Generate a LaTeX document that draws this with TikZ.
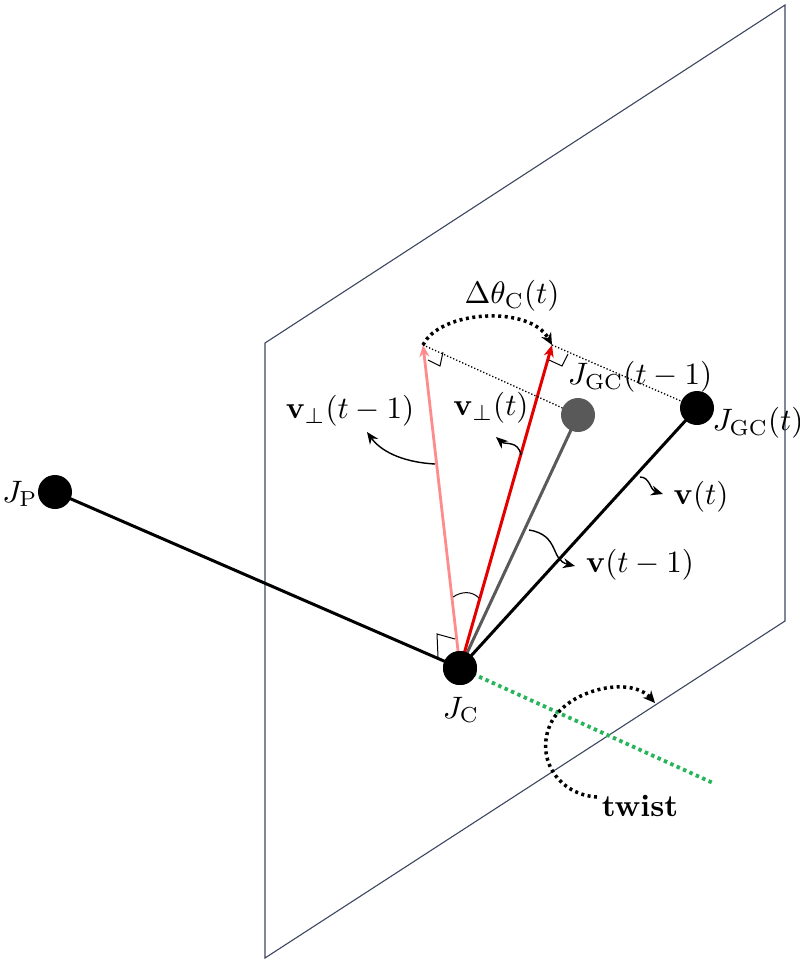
\documentclass[tikz,border=0pt]{standalone}
\usepackage{amsmath}
\usetikzlibrary{arrows.meta}
\definecolor{gr}{RGB}{40,180,90}
\definecolor{pl}{RGB}{60,70,95}
\newcommand{\myL}[1]{\scalebox{3.1}{#1}}
\begin{document}
\begin{tikzpicture}[x=1pt,y=-1pt,
  joint/.style={circle,fill=black,minimum size=34pt,inner sep=0pt},
  lbl/.style={inner sep=1pt},
  pt/.style={-{Stealth[length=12pt,width=10pt]},line width=1.4pt},
  dots/.style={black,line width=3.5pt,dash pattern=on 3pt off 3.5pt}]
\useasboundingbox (0,0) rectangle (800,969);
\draw[pl,line width=1.1pt] (265,343) -- (785,5) -- (785,621) -- (265,958) -- cycle;
\coordinate (gend) at (713,783);
\draw[gr,line width=3.8pt,dash pattern=on 3.5pt off 3.5pt] (460,668) -- (gend);
\node[joint] (JP) at (55,492) {};
\node[joint] (JC) at (460,668) {};
\node[joint] (JGt) at (697,408) {};
\node[circle,fill=black!65,minimum size=34pt,inner sep=0pt] (JG1) at (578,415) {};
\coordinate (pk) at (423,345);
\coordinate (rd) at (552,345);
\draw[line width=3pt] (JP.center) -- (JC.center);
\draw[line width=3pt] (JC.center) -- (JGt.center);
\draw[black!65,line width=3pt] (JC.center) -- (JG1.center);
\draw[red!45,line width=2.8pt,-{Stealth[length=12pt,width=10pt]}] (JC.center) -- (pk);
\draw[red!90!black,line width=3pt,-{Stealth[length=12pt,width=10pt]}] (JC.center) -- (rd);
\node[joint] at (JC) {};
\draw[dotted,line width=1.3pt] (pk) -- (JG1);
\draw[dotted,line width=1.3pt] (rd) -- (JGt);
\draw[line width=1pt] (428,360) -- (440,366) -- (443,352);
\draw[line width=1pt] (549,360) -- (562,366) -- (568,354);
\draw[line width=1pt] (438,657) -- (437,634) -- (455,639);
\draw[line width=1pt] (453,597) .. controls (462,591) and (472,591) .. (479,598);
\draw[dots,-{Stealth[length=12pt,width=11pt]}] (pk) .. controls (440,310) and (530,305) .. (rd);
\draw[pt] (435,464) .. controls (400,462) and (380,450) .. (367,432);
\draw[pt] (521,455) .. controls (518,440) and (505,445) .. (496,437);
\draw[pt] (640,477) .. controls (650,477) and (650,490) .. (663,494);
\draw[pt] (529,530) .. controls (560,535) and (550,560) .. (575,566);
\draw[dots,-{Stealth[length=12pt,width=11pt]}] (597,797) .. controls (560,795) and (535,760) .. (550,725) .. controls (565,690) and (630,675) .. (655,703);
\node[lbl] at (512,296) {\myL{$\Delta\theta_{\mathrm{C}}(t)$}};
\node[lbl] at (350,411) {\myL{$\mathbf{v}_{\perp}(t-1)$}};
\node[lbl] at (491,408) {\myL{$\mathbf{v}_{\perp}(t)$}};
\node[lbl] at (640,377) {\myL{$J_{\mathrm{GC}}(t-1)$}};
\node[lbl] at (758,423) {\myL{$J_{\mathrm{GC}}(t)$}};
\node[lbl] at (701,497) {\myL{$\mathbf{v}(t)$}};
\node[lbl] at (640,565) {\myL{$\mathbf{v}(t-1)$}};
\node[lbl] at (20,494) {\myL{$J_{\mathrm{P}}$}};
\node[lbl] at (461,710) {\myL{$J_{\mathrm{C}}$}};
\node[lbl] at (640,806) {\myL{\textbf{twist}}};
\end{tikzpicture}
\end{document}
